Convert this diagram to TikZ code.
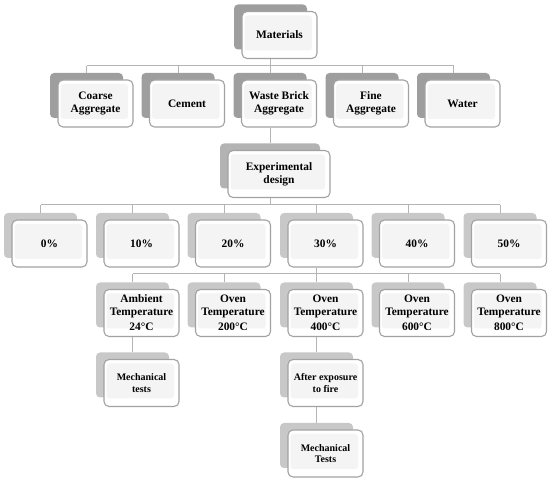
\documentclass[tikz,border=0pt]{standalone}
\usepackage{fontspec}
\setmainfont{Liberation Serif}
\usepackage{tikz}
\usetikzlibrary{calc,positioning}
\usepackage{xcolor}
\definecolor{shadeA}{HTML}{9E9E9E}
\definecolor{shadeB}{HTML}{B3B3B3}
\definecolor{shadeC}{HTML}{C8C8C8}
\definecolor{edgegray}{HTML}{A2A2A2}
\definecolor{linkgray}{HTML}{B4B4B4}
\definecolor{innergray}{HTML}{F4F4F4}

% shaded box: [style], name, x, y, shade, width, text
\newcommand{\duobox}[7][]{%
  \node[backbox,fill=#5,minimum width=#6] (#2-b) at (#3,#4) {};
  \node[frontbox,minimum width={#6+2pt},#1] (#2) at ([shift={(9,8)}]#2-b) {#7};}

\begin{document}
\begin{tikzpicture}[x=1pt,y=-1pt,
    backbox/.style={rectangle,rounded corners=4pt,minimum height=45pt,inner sep=0pt},
    frontbox/.style={rectangle,rounded corners=5pt,draw=edgegray,line width=1.1pt,fill=white,
      minimum height=47pt,inner sep=0pt,align=center,
      font=\bfseries\fontsize{11.4}{13}\selectfont,
      path picture={\fill[innergray,rounded corners=3pt]
        ([shift={(2.5pt,-4pt)}]path picture bounding box.north west) rectangle
        ([shift={(-5pt,8pt)}]path picture bounding box.south east);}},
    small/.style={font=\bfseries\fontsize{10}{11.5}\selectfont},
    link/.style={draw=linkgray,line width=1pt}]
  \useasboundingbox (0,0) rectangle (550,481);
  \duobox{mat}{270.5}{27}{shadeA}{73pt}{Materials}
  \duobox{coarse}{86.5}{95.5}{shadeA}{73pt}{Coarse\\Aggregate}
  \duobox{cement}{178}{95.5}{shadeA}{73pt}{Cement}
  \duobox{waste}{270}{95.5}{shadeA}{73pt}{Waste Brick\\Aggregate}
  \duobox{fine}{362}{95.5}{shadeA}{73pt}{Fine\\Aggregate}
  \duobox{water}{453.5}{95.5}{shadeA}{73pt}{Water}
  \duobox{exp}{270}{166}{shadeB}{100pt}{Experimental\\design}
  \duobox{p0}{40.5}{235.5}{shadeC}{73pt}{0\%}
  \duobox{p10}{132.5}{235.5}{shadeC}{73pt}{10\%}
  \duobox{p20}{224}{235.5}{shadeC}{73pt}{20\%}
  \duobox{p30}{316.5}{235.5}{shadeC}{73pt}{30\%}
  \duobox{p40}{408}{235.5}{shadeC}{73pt}{40\%}
  \duobox{p50}{500}{235.5}{shadeC}{73pt}{50\%}
  \duobox{t24}{132.5}{305}{shadeC}{73pt}{Ambient\\Temperature\\[2pt]24°C}
  \duobox{t200}{224}{305}{shadeC}{73pt}{Oven\\Temperature\\[2pt]200°C}
  \duobox{t400}{316.5}{305}{shadeC}{73pt}{Oven\\Temperature\\[2pt]400°C}
  \duobox{t600}{408}{305}{shadeC}{73pt}{Oven\\Temperature\\[2pt]600°C}
  \duobox{t800}{500}{305}{shadeC}{73pt}{Oven\\Temperature\\[2pt]800°C}
  \duobox[small]{mech}{132.5}{375}{shadeC}{73pt}{Mechanical\\tests}
  \duobox[small]{fire}{316.5}{375}{shadeC}{73pt}{After exposure\\to fire}
  \duobox[small]{mechT}{316.5}{445.5}{shadeC}{73pt}{Mechanical\\Tests}
  % buses
  \coordinate (bus1) at (0,66);
  \coordinate (bus2) at (0,205);
  \coordinate (bus3) at (0,274);
  \draw[link] (mat-b.center |- mat.south) -- (mat-b.center |- bus1);
  \draw[link] (coarse-b.north |- bus1) -- (water-b.north |- bus1);
  \foreach \n in {coarse,cement,waste,fine,water}
    \draw[link] (\n-b.north |- bus1) -- (\n-b.north);
  \draw[link] (waste-b.center |- waste.south) -- (exp-b.north);
  \draw[link] (exp-b.center |- exp.south) -- (exp-b.center |- bus2);
  \draw[link] (p0-b.north |- bus2) -- (p50-b.north |- bus2);
  \foreach \n in {p0,p10,p20,p30,p40,p50}
    \draw[link] (\n-b.north |- bus2) -- (\n-b.north);
  \draw[link] (p30-b.center |- p30.south) -- (p30-b.center |- bus3);
  \draw[link] (t24-b.north |- bus3) -- (t800-b.north |- bus3);
  \foreach \n in {t24,t200,t400,t600,t800}
    \draw[link] (\n-b.north |- bus3) -- (\n-b.north);
  \draw[link] (t24-b.center |- t24.south) -- (mech-b.north);
  \draw[link] (t400-b.center |- t400.south) -- (fire-b.north);
  \draw[link] (fire-b.center |- fire.south) -- (mechT-b.north);
\end{tikzpicture}
\end{document}
